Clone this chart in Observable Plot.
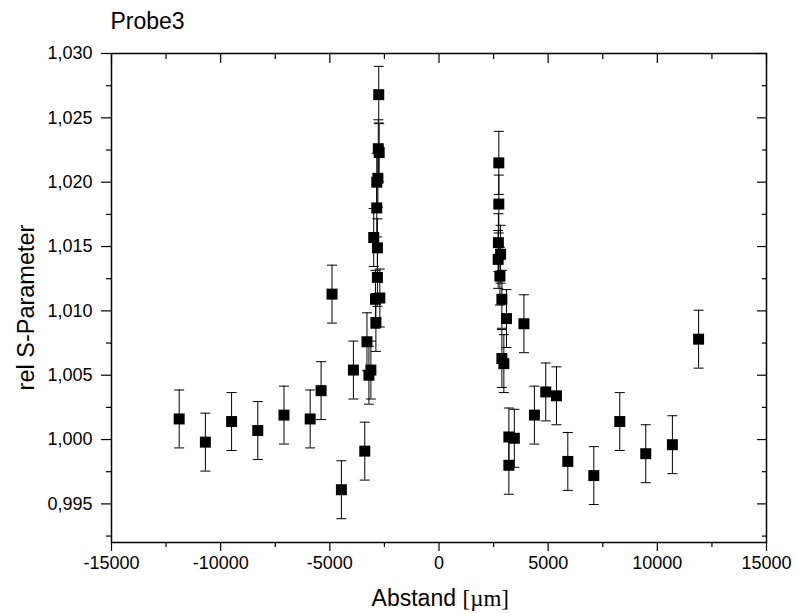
<!DOCTYPE html>
<html><head><meta charset="utf-8">
<script src="https://cdn.jsdelivr.net/npm/d3@7"></script>
<script src="https://cdn.jsdelivr.net/npm/@observablehq/plot@0.6"></script>
<style>
body{margin:0;background:#fff;}
#chart{width:797px;height:613px;}
</style></head><body><div id="chart"></div>
<script>
const abstand = [-11900, -10700, -9500, -8300, -7100, -5900, -5400, -4900, -4470, -3920, -3400, -3300, -3210, -3120, -2990, -2910, -2890, -2850, -2850, -2820, -2820, -2800, -2780, -2760, -2740, -2710,
  2710, 2720, 2740, 2740, 2790, 2820, 2880, 2880, 2970, 3090, 3200, 3200, 3450, 3890, 4370, 4890, 5380, 5900, 7090, 8280, 9470, 10690, 11890];
const sParam = [1.0016, 0.9998, 1.0014, 1.0007, 1.0019, 1.0016, 1.0038, 1.0113, 0.9961, 1.0054, 0.9991, 1.0076, 1.0050, 1.0054, 1.0157, 1.0109, 1.0091, 1.0180, 1.0200, 1.0126, 1.0149, 1.0203, 1.0226, 1.0268, 1.0223, 1.0110,
  1.0140, 1.0153, 1.0215, 1.0183, 1.0127, 1.0144, 1.0109, 1.0063, 1.0059, 1.0094, 1.0002, 0.9980, 1.0001, 1.0090, 1.0019, 1.0037, 1.0034, 0.9983, 0.9972, 1.0014, 0.9989, 0.9996, 1.0078];
const fehler = [0.00225, 0.00225, 0.00225, 0.00225, 0.00225, 0.00225, 0.00225, 0.00225, 0.00225, 0.00225, 0.00225, 0.00225, 0.00225, 0.00225, 0.00225, 0.00225, 0.00225, 0.00225, 0.00225, 0.00225, 0.00225, 0.00225, 0.00225, 0.0022, 0.00225, 0.00225,
  0.00225, 0.00225, 0.00245, 0.00225, 0.00225, 0.00225, 0.00225, 0.00225, 0.00225, 0.00225, 0.00225, 0.00225, 0.00225, 0.00225, 0.00225, 0.00225, 0.00225, 0.00225, 0.00225, 0.00225, 0.00225, 0.00225, 0.00225];

const xMajorTicks = [-15000, -10000, -5000, 0, 5000, 10000, 15000];
const xMinorTicks = [-12500, -7500, -2500, 2500, 7500, 12500];
const yMajorTicks = [0.995, 1.000, 1.005, 1.010, 1.015, 1.020, 1.025, 1.030];
const yMinorTicks = [0.9925, 0.9975, 1.0025, 1.0075, 1.0125, 1.0175, 1.0225, 1.0275];
const titleText = "Probe3";
const xTitle = "Abstand";
const xUnit = "[µm]";
const yTitle = "rel S-Parameter";

const data = abstand.map((x, i) => ({x, y: sParam[i], e: fehler[i]}));
const capSymbol = {draw(ctx, size) { const w = Math.sqrt(size / Math.PI); ctx.moveTo(-w, 0); ctx.lineTo(w, 0); }};
const fmtY = d => d.toFixed(3).replace(".", ",");
const fmtX = d => String(d);
const blank = () => "";
const sans = "'Liberation Sans', Arial, sans-serif";
const serif = "'Liberation Serif', 'Times New Roman', serif";

const plot = Plot.plot({
  width: 797, height: 613,
  marginLeft: 111, marginRight: 31, marginTop: 53, marginBottom: 71,
  style: {fontFamily: sans, background: "white", color: "black", overflow: "visible"},
  x: {domain: [-15000, 15000]},
  y: {domain: [0.992, 1.030]},
  marks: [
    Plot.ruleX(data, {x: "x", y1: d => d.y - d.e, y2: d => d.y + d.e, stroke: "black", strokeWidth: 1}),
    Plot.dot(data, {x: "x", y: d => d.y + d.e, symbol: capSymbol, r: 5, stroke: "black", fill: "none", strokeWidth: 1}),
    Plot.dot(data, {x: "x", y: d => d.y - d.e, symbol: capSymbol, r: 5, stroke: "black", fill: "none", strokeWidth: 1}),
    Plot.dot(data, {x: "x", y: "y", symbol: "square", r: 6.2, fill: "black", stroke: "none"}),
    Plot.frame({stroke: "black", strokeWidth: 1.5}),
    Plot.axisX(xMajorTicks, {anchor: "bottom", tickSize: 9, tickPadding: 5, tickFormat: fmtX, fontSize: 18, label: null, strokeWidth: 1.2}),
    Plot.axisX(xMinorTicks, {anchor: "bottom", tickSize: 5, tickFormat: blank, label: null, strokeWidth: 1.2}),
    Plot.axisX(xMajorTicks, {anchor: "top", tickSize: 9, dy: 9, tickFormat: blank, label: null, strokeWidth: 1.2}),
    Plot.axisX(xMinorTicks, {anchor: "top", tickSize: 5, dy: 5, tickFormat: blank, label: null, strokeWidth: 1.2}),
    Plot.axisY(yMajorTicks, {anchor: "left", tickSize: 10, tickPadding: 9, tickFormat: fmtY, fontSize: 18, label: null, strokeWidth: 1.2}),
    Plot.axisY(yMinorTicks, {anchor: "left", tickSize: 5, tickFormat: blank, label: null, strokeWidth: 1.2}),
    Plot.axisY(yMajorTicks, {anchor: "right", tickSize: 10, dx: -10, tickFormat: blank, label: null, strokeWidth: 1.2}),
    Plot.axisY(yMinorTicks, {anchor: "right", tickSize: 5, dx: -5, tickFormat: blank, label: null, strokeWidth: 1.2}),
    Plot.text([titleText], {text: d => d, frameAnchor: "top-left", textAnchor: "start", lineAnchor: "middle", dx: -1, dy: -31.4, fontSize: 23, fill: "black"}),
    Plot.text([yTitle], {text: d => d, frameAnchor: "left", textAnchor: "middle", lineAnchor: "middle", rotate: -90, dx: -85, dy: 9.5, fontSize: 23.5, fill: "black"}),
    Plot.text([xTitle], {text: d => d, frameAnchor: "bottom", textAnchor: "end", lineAnchor: "middle", dx: 17, dy: 56, fontSize: 23, fill: "black"}),
    Plot.text([xUnit], {text: d => d, frameAnchor: "bottom", textAnchor: "start", lineAnchor: "middle", dx: 23.5, dy: 56, fontSize: 23, fontFamily: serif, fill: "black"})
  ]
});
document.getElementById("chart").appendChild(plot);
</script>
</body></html>
